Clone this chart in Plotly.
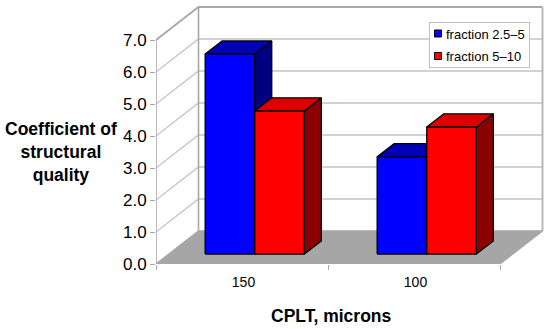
import plotly.graph_objects as go

# --- data ---
categories = ["150", "100"]
series_names = ["fraction 2.5–5", "fraction 5–10"]
fraction_2_5_5 = [6.25, 3.04]
fraction_5_10 = [4.47, 3.97]
y_ticks = [0, 1, 2, 3, 4, 5, 6, 7]

# --- oblique projection, in axis units (x: categories, y: value) ---
PX_X, PX_Y = 172.0, 32.0
DX, DY = 42.5 / PX_X, 33.0 / PX_Y   # full floor depth
BAR_W = 49.6 / PX_X
T0, T1 = 0.30, 0.70                 # bar front / back depth
W, H = 550, 329
ML, MR, MT, MB = 156, 5, 4, 65
PW, PH = W - ML - MR, H - MT - MB
X_MAX = PW / PX_X
Y_MAX = PH / PX_Y
GRID = "#c4c4c4"
AXIS = "#a8a8a8"

def proj(x, y, t):
    return x + DX * t, y + DY * t

def poly(points, color, line="black", lw=1.3, close=True):
    pts = [proj(*p) for p in points]
    if close:
        pts.append(pts[0])
    return go.Scatter(x=[p[0] for p in pts], y=[p[1] for p in pts], mode="lines",
                      fill="toself" if close else None, fillcolor=color if close else None,
                      line=dict(color=line, width=lw), hoverinfo="skip", showlegend=False)

def seg(points, color=GRID, lw=1.3):
    return poly(points, None, line=color, lw=lw, close=False)

fig = go.Figure()

# walls and floor
n = len(categories)
fig.add_trace(poly([(0, 0, 0), (n, 0, 0), (n, 0, 1), (0, 0, 1)], "#a6a6a6", line="#a6a6a6", lw=0.5))
for v in y_ticks:
    lw = 1.8 if v == y_ticks[-1] else 1.3
    fig.add_trace(seg([(0, v, 0), (0, v, 1), (n, v, 1)], AXIS if v in (0, 7) else GRID, lw))
fig.add_trace(seg([(0, 0, 1), (0, y_ticks[-1], 1)], AXIS, 1.6))
fig.add_trace(seg([(n, 0, 1), (n, y_ticks[-1], 1)], "#b8b8b8", 2))
fig.add_trace(seg([(0, 0, 0), (0, y_ticks[-1], 0)], AXIS, 1.6))
fig.add_trace(seg([(0, 0, 0), (n, 0, 0), (n, 0, 1)], AXIS, 1.2))

# bars
styles = [("#0000ff", "#0000b4", "#000080"), ("#ff0000", "#dc0000", "#8b0000")]
for c in range(n):
    left = c + 0.5 - BAR_W
    for s, values in enumerate([fraction_2_5_5, fraction_5_10]):
        a, b, v = left + s * BAR_W, left + (s + 1) * BAR_W, values[c]
        front, top, side = styles[s]
        fig.add_trace(poly([(b, 0, T0), (b, 0, T1), (b, v, T1), (b, v, T0)], side))
        fig.add_trace(poly([(a, v, T0), (b, v, T0), (b, v, T1), (a, v, T1)], top))
        fig.add_trace(poly([(a, 0, T0), (b, 0, T0), (b, v, T0), (a, v, T0)], front))

# legend entries
for name, (front, _, _) in zip(series_names, styles):
    fig.add_trace(go.Scatter(x=[None], y=[None], mode="markers", name=name,
                             marker=dict(symbol="square", size=7, color=front,
                                         line=dict(color="black", width=1))))

fig.update_layout(
    width=W, height=H, margin=dict(l=ML, r=MR, t=MT, b=MB, pad=0),
    paper_bgcolor="white", plot_bgcolor="white",
    font=dict(family="Liberation Sans, Arial, sans-serif", color="black"),
    legend=dict(x=(429 - ML) / PW, y=1 - (22 - MT) / PH, xanchor="left", yanchor="top",
                bordercolor="#c0c0c0", borderwidth=1, bgcolor="white",
                font=dict(size=13), itemsizing="trace", tracegroupgap=0,
                itemwidth=30, indentation=-15),
    xaxis=dict(range=[0, X_MAX], showgrid=False, zeroline=False, showline=False,
               tickmode="array", tickvals=[i + 0.5 + 1.5 / PX_X for i in range(n)], ticktext=categories,
               ticks="outside", ticklen=5, tickcolor="rgba(0,0,0,0)", tickfont=dict(size=14),
               minor=dict(tickmode="array", tickvals=list(range(n + 1)), ticks="outside",
                          ticklen=5, tickcolor=AXIS, tickwidth=1, showgrid=False)),
    yaxis=dict(range=[0, Y_MAX], showgrid=False, zeroline=False, showline=False,
               tickmode="array", tickvals=y_ticks, ticktext=[f"{v:.1f}" for v in y_ticks],
               ticks="outside", ticklen=5, tickcolor=AXIS, tickwidth=1, tickfont=dict(size=17)),
    annotations=[
        dict(text="<b>Coefficient of<br>structural<br>quality</b>", xref="paper", yref="paper",
             x=(60.5 - ML) / PW, y=(H - MB - 152) / PH, xanchor="center", yanchor="middle",
             showarrow=False, align="center", font=dict(size=17.5, color="black")),
        dict(text="<b>CPLT, microns</b>", xref="paper", yref="paper",
             x=(331 - ML) / PW, y=(H - MB - 315.5) / PH, xanchor="center", yanchor="middle",
             showarrow=False, font=dict(size=17.5, color="black")),
    ],
)
# tighten the legend rows: plotly's minimum item width leaves a wider gap than the reference
tweak = """
document.body.style.margin='0';
document.querySelectorAll('.legend .traces').forEach(function(t,i){
  t.setAttribute('transform','translate(1,'+(11.5+i*22.5)+')');
  var txt=t.querySelector('.legendtext');
  txt.setAttribute('x', Number(txt.getAttribute('x'))-9);
  var pts=t.querySelector('.legendpoints');
  if(pts){pts.setAttribute('transform','translate(3,0)');}
});
var bg=document.querySelector('.legend .bg');
bg.setAttribute('width',100);bg.setAttribute('height',45);
"""
fig.write_html("out.html", post_script=tweak, config={"displayModeBar": False})
